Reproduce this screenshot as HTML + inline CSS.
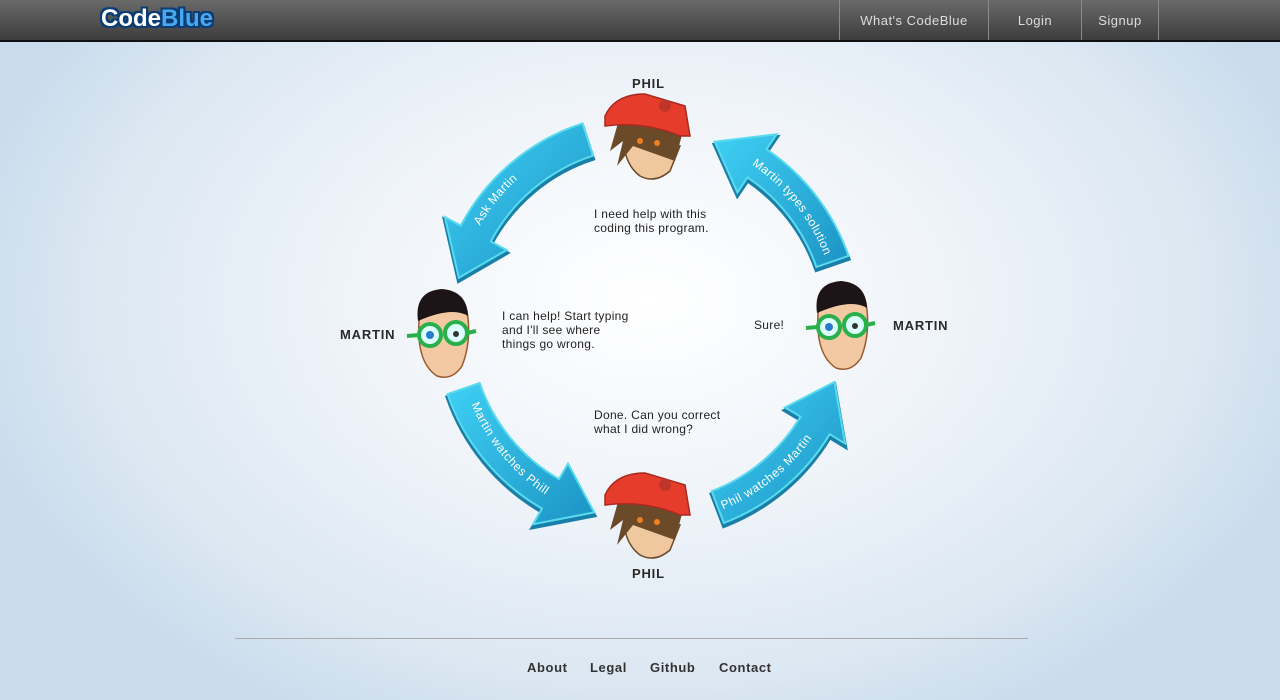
<!DOCTYPE html>
<html><head><meta charset="utf-8"><style>
html,body{margin:0;padding:0}
body{width:1280px;height:700px;overflow:hidden;position:relative;font-family:"Liberation Sans",sans-serif;
background:radial-gradient(ellipse 700px 480px at 648px 300px,#ffffff 0%,#eef3f9 45%,#dbe7f2 80%,#c9dbec 100%);}
.nav{position:absolute;left:0;top:0;width:1280px;height:40px;background:linear-gradient(#6a6a6a,#3c3c3c);border-bottom:2px solid #111;}
.logo{position:absolute;left:101px;top:5px;font:bold 24px "Liberation Sans",sans-serif;color:#fff;
text-shadow:-2px 0 #0b3d73,2px 0 #0b3d73,0 -2px #0b3d73,0 2px #0b3d73,2px 2px #0b3d73,-2px -2px #0b3d73,2px -2px #0b3d73,-2px 2px #0b3d73}
.logo span{color:#4aa8f0}
.item{position:absolute;top:0;height:40px;line-height:42px;color:#ddd;font-size:13px;text-align:center;border-left:1px solid #8a8a8a;letter-spacing:.5px}
.lbl{position:absolute;font-weight:bold;font-size:13px;color:#2a2a2a;letter-spacing:.8px}
.txt{position:absolute;font-size:12px;color:#222;line-height:14px;letter-spacing:.3px}
.foot{position:absolute;top:660px;font-weight:bold;font-size:13px;color:#333;letter-spacing:.6px}
</style></head><body>
<div class="nav">
<div class="logo">Code<span>Blue</span></div>
<div class="item" style="left:839px;width:148px">What's CodeBlue</div>
<div class="item" style="left:988px;width:92px">Login</div>
<div class="item" style="left:1081px;width:76px">Signup</div>
<div class="item" style="left:1158px;width:0"></div>
</div>

<svg width="1280" height="700" style="position:absolute;left:0;top:0">
<defs>
<linearGradient id="ag" x1="0" y1="0" x2="1" y2="1"><stop offset="0" stop-color="#3fd0f5"/><stop offset="1" stop-color="#1c93c4"/></linearGradient>
<g id="phil">
<path d="M-20,-10 Q-25,25 -5,40 Q10,48 25,35 L35,10 Z" fill="#f0c8a0" stroke="#6b4a2a" stroke-width="1.5"/>
<path d="M-25,-20 L-35,15 L-22,5 L-28,30 L-12,10 L30,25 L38,-5 Z" fill="#6b4a2a"/>
<path d="M-40,-20 Q-30,-42 0,-42 L40,-30 L45,0 L35,0 Q0,-15 -40,-10 Z" fill="#e63c2c" stroke="#a82a1e" stroke-width="1.5"/>
<circle cx="20" cy="-30" r="6" fill="#c0352a"/>
<circle cx="-5" cy="5" r="3" fill="#f08020"/><circle cx="12" cy="7" r="3" fill="#f08020"/>
</g>
<g id="martin">
<path d="M-22,-20 Q-28,30 -5,45 Q10,50 20,35 Q30,10 25,-20 Z" fill="#f3c9a3" stroke="#9a5a30" stroke-width="1.5"/>
<path d="M-24,-10 Q-28,-40 0,-42 Q25,-40 26,-15 Q10,-25 -24,-10 Z" fill="#1c1416"/>
<circle cx="-12" cy="4" r="11" fill="#dff" stroke="#2ab04a" stroke-width="4"/>
<circle cx="14" cy="2" r="11" fill="#dff" stroke="#2ab04a" stroke-width="4"/>
<circle cx="-12" cy="4" r="4" fill="#2a7ad0"/><circle cx="14" cy="3" r="3" fill="#333"/>
<path d="M-35,5 L-23,4 M25,2 L34,0" stroke="#2ab04a" stroke-width="4"/>
</g>
</defs>
<g stroke="#1a7fa8" stroke-width="4" fill="#1a7fa8" transform="translate(0,3)">
<path d="M582.5,123.4 A212,212 0 0 0 460.8,225.6 L444.9,217.1 L458.8,277.8 L506.7,250 L490.8,241.5 A178,178 0 0 1 593,155.7 Z"/>
<path d="M848.5,255.9 A212,212 0 0 0 766.5,149.3 L776.6,134.3 L714.7,141.7 L737.4,192.4 L747.5,177.4 A178,178 0 0 1 816.4,267 Z"/>
<path d="M723.9,523 A212,212 0 0 0 829.7,434.2 L845.1,443.5 L834.4,382 L785.1,407.4 L800.5,416.7 A178,178 0 0 1 711.7,491.2 Z"/>
<path d="M447.5,394.1 A212,212 0 0 0 542,508.6 L533,524.2 L594.2,512.4 L568,463.6 L559,479.1 A178,178 0 0 1 479.6,383 Z"/>
</g>
<path d="M582.5,123.4 A212,212 0 0 0 460.8,225.6 L444.9,217.1 L458.8,277.8 L506.7,250 L490.8,241.5 A178,178 0 0 1 593,155.7 Z" fill="url(#ag)" stroke="#58dbee" stroke-width="2"/>
<path d="M848.5,255.9 A212,212 0 0 0 766.5,149.3 L776.6,134.3 L714.7,141.7 L737.4,192.4 L747.5,177.4 A178,178 0 0 1 816.4,267 Z" fill="url(#ag)" stroke="#58dbee" stroke-width="2"/>
<path d="M723.9,523 A212,212 0 0 0 829.7,434.2 L845.1,443.5 L834.4,382 L785.1,407.4 L800.5,416.7 A178,178 0 0 1 711.7,491.2 Z" fill="url(#ag)" stroke="#58dbee" stroke-width="2"/>
<path d="M447.5,394.1 A212,212 0 0 0 542,508.6 L533,524.2 L594.2,512.4 L568,463.6 L559,479.1 A178,178 0 0 1 479.6,383 Z" fill="url(#ag)" stroke="#58dbee" stroke-width="2"/>
<path id="p1" d="M459,264 A195,195 0 0 1 566,143" fill="none"/>
<path id="p2" d="M714,141 A195,195 0 0 1 838,290" fill="none"/>
<path id="p3" d="M700,513 A195,195 0 0 0 828,400" fill="none"/>
<path id="p4" d="M465,370 A195,195 0 0 0 578,508" fill="none"/>
<g font-family="Liberation Sans" font-size="12" fill="#fff" letter-spacing=".5">
<text dy="4" text-anchor="middle"><textPath href="#p1" startOffset="45%">Ask Martin</textPath></text>
<text dy="4" text-anchor="middle"><textPath href="#p2" startOffset="52%">Martin types solution</textPath></text>
<text dy="4" text-anchor="middle"><textPath href="#p3" startOffset="45%">Phil watches Martin</textPath></text>
<text dy="4" text-anchor="middle"><textPath href="#p4" startOffset="50%">Martin watches Phill</textPath></text>
</g>
<use href="#phil" x="645" y="136"/>
<use href="#phil" x="645" y="515"/>
<use href="#martin" x="442" y="331"/>
<use href="#martin" x="841" y="323"/>
<line x1="235" y1="638.5" x2="1028" y2="638.5" stroke="#aaa" stroke-width="1"/>
</svg>

<div class="lbl" style="left:632px;top:76px">PHIL</div>
<div class="lbl" style="left:632px;top:566px">PHIL</div>
<div class="lbl" style="left:340px;top:327px">MARTIN</div>
<div class="lbl" style="left:893px;top:318px">MARTIN</div>
<div class="txt" style="left:594px;top:207px">I need help with this<br>coding this program.</div>
<div class="txt" style="left:502px;top:309px">I can help! Start typing<br>and I'll see where<br>things go wrong.</div>
<div class="txt" style="left:754px;top:318px">Sure!</div>
<div class="txt" style="left:594px;top:408px">Done. Can you correct<br>what I did wrong?</div>
<div class="foot" style="left:527px">About</div>
<div class="foot" style="left:590px">Legal</div>
<div class="foot" style="left:650px">Github</div>
<div class="foot" style="left:719px">Contact</div>
</body></html>
